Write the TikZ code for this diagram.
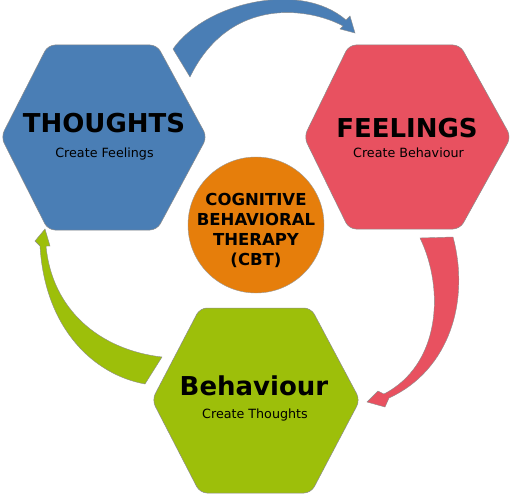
\documentclass[tikz,border=0pt]{standalone}
\usepackage{fontspec}
\setmainfont{DejaVu Sans}
\definecolor{tblue}{RGB}{74,126,181}
\definecolor{fred}{RGB}{232,81,96}
\definecolor{bgreen}{RGB}{157,191,10}
\definecolor{corange}{RGB}{230,126,11}
\begin{document}
\begin{tikzpicture}[x=1pt,y=-1pt,
  hexshape/.style={draw=black!45,line width=0.5pt,rounded corners=7pt},
  arrowshape/.style={draw=black!45,line width=0.4pt,line join=miter},
  titletext/.style={font=\bfseries\fontsize{26}{30}\selectfont,anchor=base,inner sep=0pt},
  subtext/.style={font=\fontsize{12.7}{15}\selectfont,anchor=base,inner sep=0pt},
  cbttext/.style={font=\bfseries\fontsize{16.5}{20}\selectfont,align=center,inner sep=0pt}]
\useasboundingbox (0,0) rectangle (512,495);
\fill[white] (0,0) rectangle (512,495);

% hexagons
\filldraw[fill=tblue,hexshape] (1,137) -- (48,45) -- (157,45) -- (207,137) -- (157,230) -- (48,230) -- cycle;
\filldraw[fill=fred,hexshape] (304,137) -- (349,45) -- (460,45) -- (511,137) -- (460,229) -- (349,229) -- cycle;
\filldraw[fill=bgreen,hexshape] (152,400) -- (200,308) -- (311,308) -- (360,400) -- (311,493) -- (200,493) -- cycle;

% centre circle
\node[circle,fill=corange,draw=black!40,line width=0.4pt,minimum size=136pt,inner sep=0pt] (cbt) at (256,225) {};
\node[cbttext] (cbtlabel) at (256,230) {COGNITIVE\\BEHAVIORAL\\THERAPY\\(CBT)};

% labels
\node[titletext] (thoughts) at (104,132) {THOUGHTS};
\node[subtext] (thoughtssub) at (104.5,157.5) {Create Feelings};
\node[titletext] (feelings) at (407,137) {FEELINGS};
\node[subtext] (feelingssub) at (408.5,157.5) {Create Behaviour};
\node[titletext] (behaviour) at (254,395) {Behaviour};
\node[subtext] (behavioursub) at (255,418.5) {Create Thoughts};

% blue arrow: thoughts -> feelings
\coordinate (bA) at (173,49);
\coordinate (bB) at (190,77);
\filldraw[fill=tblue,arrowshape] (bA) .. controls (205,3) and (300,-20) .. (346,20)
  -- (350,16) -- (355,33) -- (340,29) -- (343,26)
  .. controls (310,8) and (230,-5) .. (bB) -- cycle;

% red arrow: feelings -> behaviour
\coordinate (rA) at (420,238);
\coordinate (rB) at (453,237);
\filldraw[fill=fred,arrowshape] (rA) -- (rB) .. controls (470,300) and (450,370) .. (389,398)
  -- (385,407) -- (367,402) -- (378,391) -- (384,394)
  .. controls (440,365) and (445,290) .. (rA) -- cycle;

% green arrow: behaviour -> thoughts
\coordinate (gA) at (162,357);
\coordinate (gB) at (145,384);
\filldraw[fill=bgreen,arrowshape] (gA) -- (gB) .. controls (95,375) and (45,330) .. (40,246)
  -- (35,241) -- (45,229) -- (50,246) -- (46,246)
  .. controls (52,310) and (100,350) .. (gA) -- cycle;
\end{tikzpicture}
\end{document}
